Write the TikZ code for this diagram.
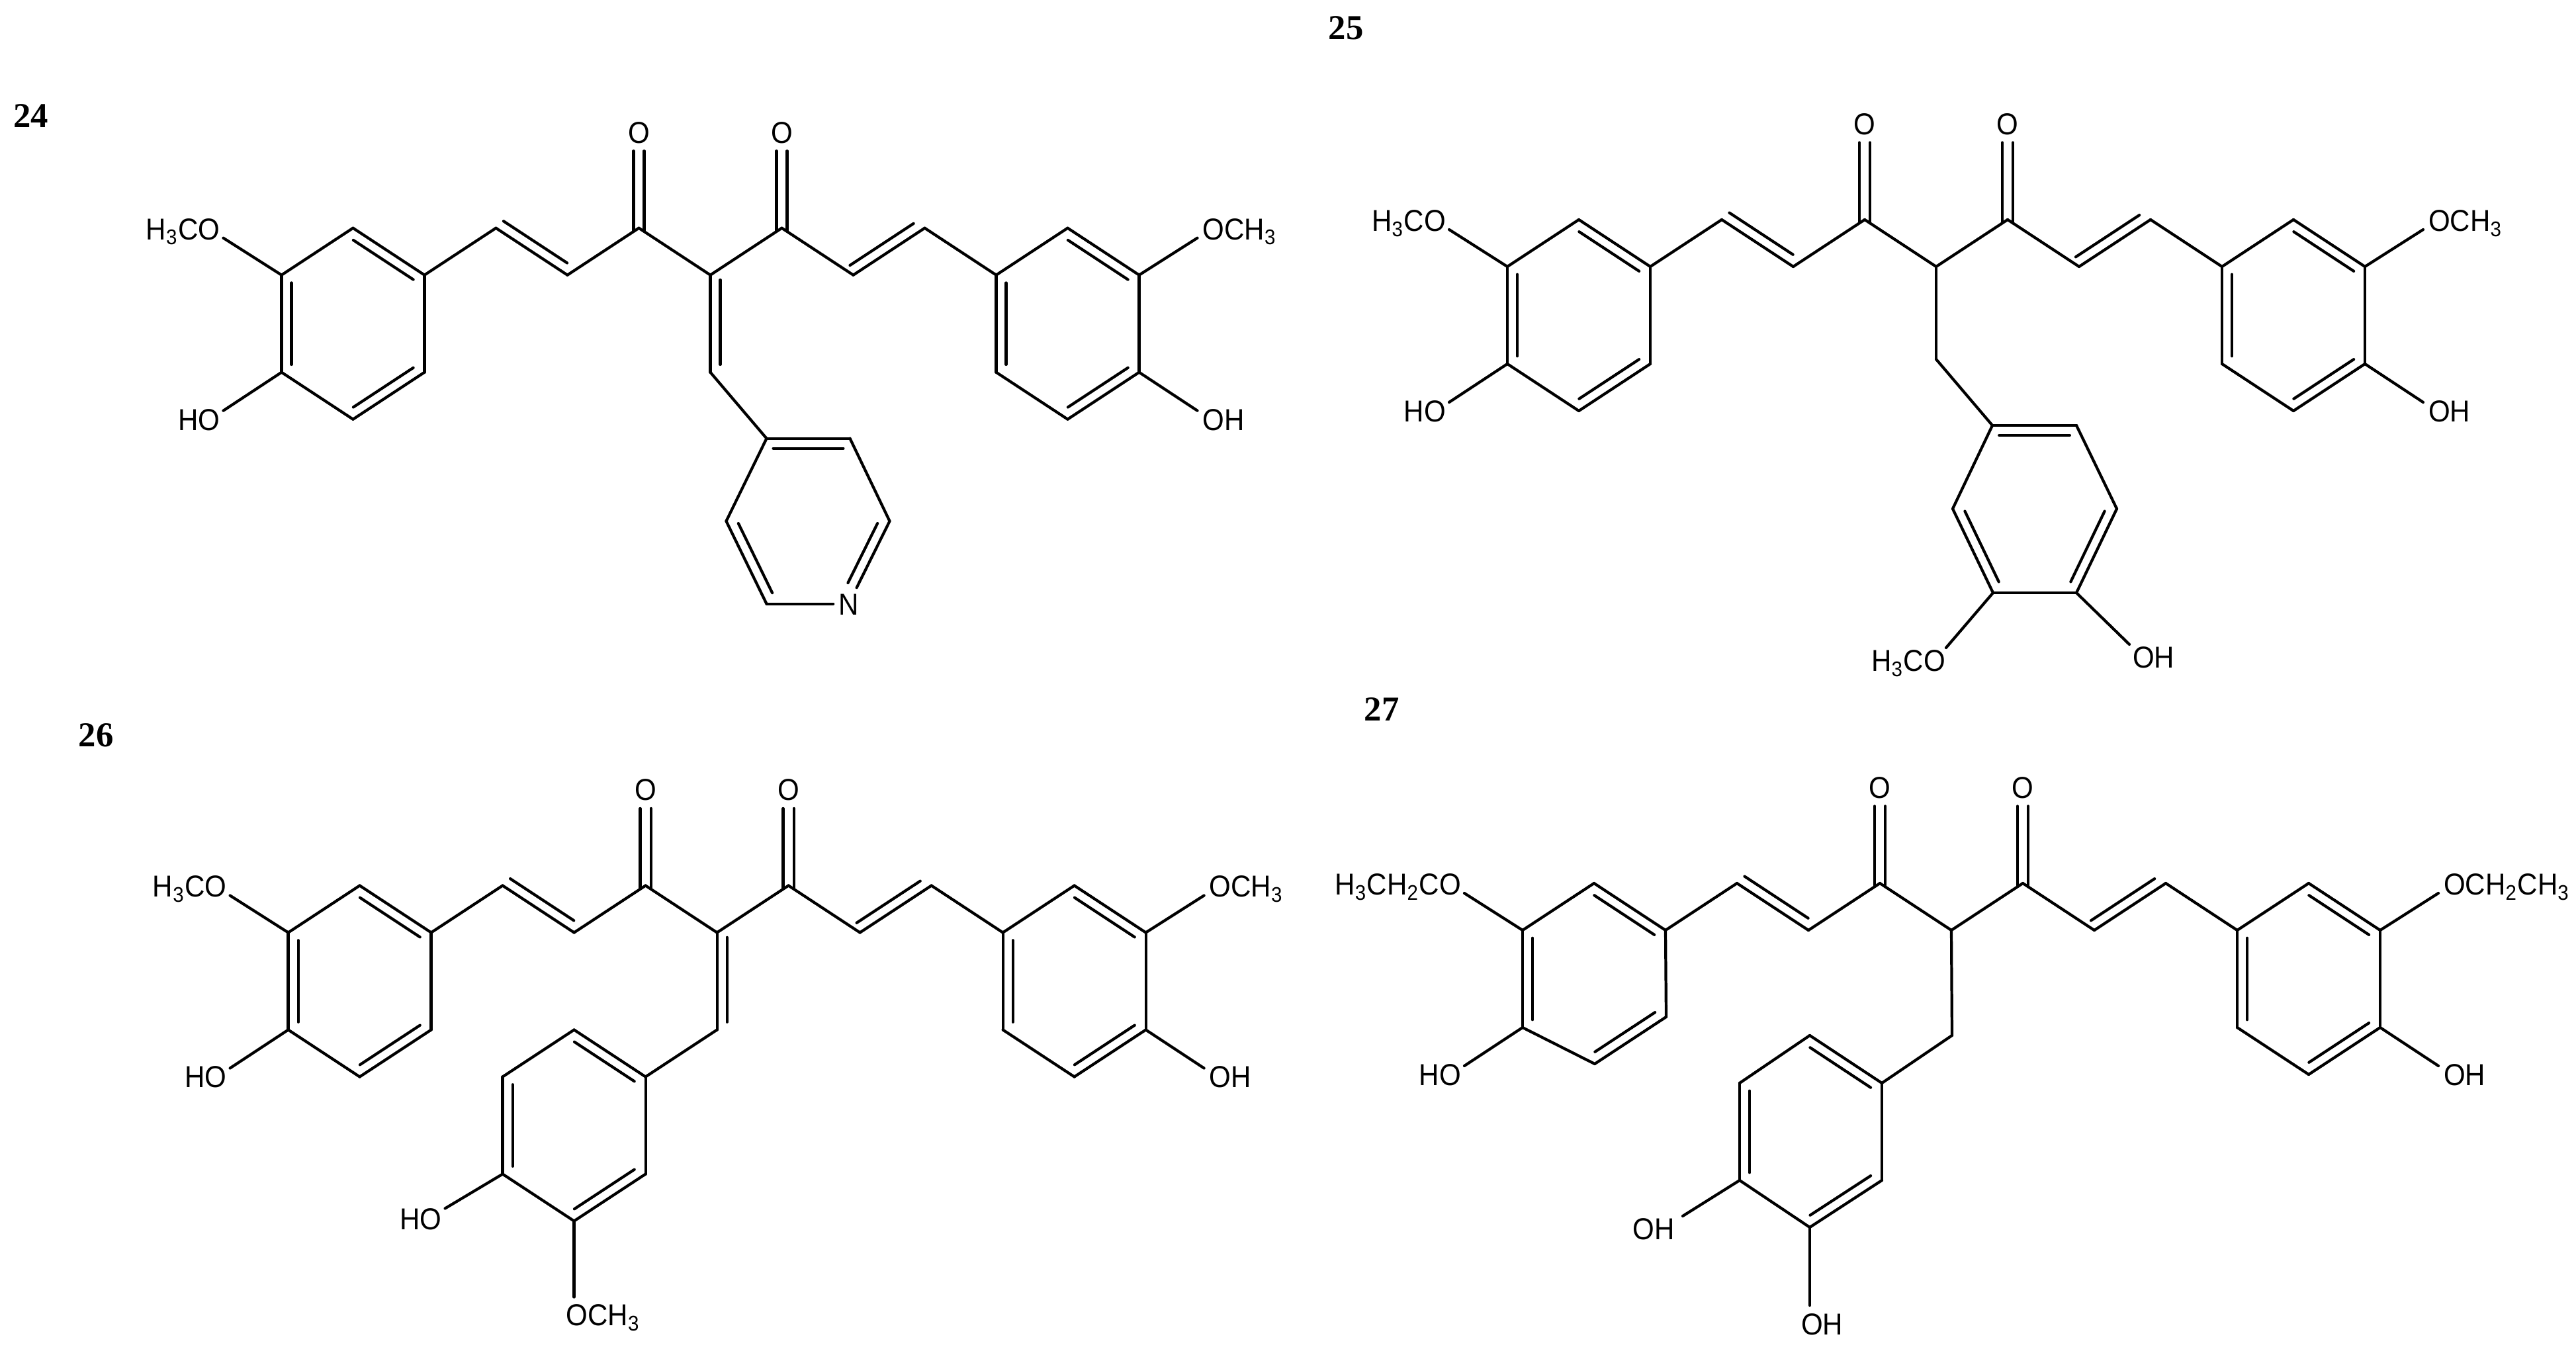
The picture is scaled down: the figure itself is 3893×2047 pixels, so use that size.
\documentclass[tikz,border=0pt]{standalone}
\usepackage{fontspec}
\setmainfont[FakeStretch=0.92]{Liberation Sans}
\newfontfamily\numfont{Liberation Serif}
\usepackage{tikz}
\usetikzlibrary{calc}

% second line of a double bond, on the left of a->b
\newcommand{\dblin}[3][.08]{\path ($(#2)!#1!(#3)!0.15cm!90:(#3)$) edge ($(#3)!.08!(#2)!-0.15cm!90:(#2)$);}
% C=O
\newcommand{\carbonyl}[2]{\path ([xshift=-0.08cm,yshift=-0.04cm]#1) edge ([xshift=-0.08cm,yshift=-0.1cm]#2.south)
	([xshift=0.08cm,yshift=-0.04cm]#1) edge ([xshift=0.08cm,yshift=-0.1cm]#2.south);}
\newcommand{\skelatoms}[1]{
	\coordinate (#1c) at (0,0);
	\coordinate (#1r1) at (108,71);
	\coordinate (#1r2) at (216,0);
	\coordinate (#1r3) at (324,71);
	\coordinate (#1r4) at (432,0);
	\coordinate (#1r5) at (540,71);
	\coordinate (#1r6) at (648,0);
	\coordinate (#1r7) at (648,-147);
	\coordinate (#1r8) at (540,-218);
	\coordinate (#1r9) at (432,-147);
	\coordinate (#1l1) at (-108,71);
	\coordinate (#1l2) at (-216,0);
	\coordinate (#1l3) at (-324,71);
	\coordinate (#1l4) at (-432,0);
	\coordinate (#1l5) at (-540,71);
	\coordinate (#1l6) at (-648,0);
	\coordinate (#1l7) at (-648,-147);
	\coordinate (#1l8) at (-540,-218);
	\coordinate (#1l9) at (-432,-147);
	\coordinate (#1ome) at (736,56);
	\coordinate (#1oh) at (736,-205);
	\coordinate (#1lome) at (-736,56);
	\coordinate (#1loh) at (-736,-205);
}
% #2, #3: left and right ether labels
\newcommand{\skelbonds}[3]{
	\node[atom] (#1ol) at (-108,216) {O};
	\node[atom] (#1or) at (108,216) {O};
	\node[atom,anchor=east] (#1ltop) at (-739,70) {#2};
	\node[atom,anchor=east] (#1lbot) at (-739,-218) {HO};
	\node[atom,anchor=west] (#1rtop) at (742,70) {#3};
	\node[atom,anchor=west] (#1rbot) at (742,-218) {OH};
	\carbonyl{#1l1}{#1ol}
	\carbonyl{#1r1}{#1or}
	\path (#1c) edge [] (#1r1)
		(#1r1) edge [] (#1r2)
		(#1r2) edge [] (#1r3)
		(#1r3) edge [] (#1r4)
		(#1r4) edge [] (#1r5)
		(#1r5) edge [] (#1r6)
		(#1r6) edge [] (#1r7)
		(#1r7) edge [] (#1r8)
		(#1r8) edge [] (#1r9)
		(#1r9) edge [] (#1r4)
		(#1r6) edge [] (#1ome)
		(#1r7) edge [] (#1oh)
		(#1c) edge [] (#1l1)
		(#1l1) edge [] (#1l2)
		(#1l2) edge [] (#1l3)
		(#1l3) edge [] (#1l4)
		(#1l4) edge [] (#1l5)
		(#1l5) edge [] (#1l6)
		(#1l6) edge [] (#1l7)
		(#1l7) edge [] (#1l8)
		(#1l8) edge [] (#1l9)
		(#1l9) edge [] (#1l4)
		(#1l6) edge [] (#1lome)
		(#1l7) edge [] (#1loh);
	\dblin[.03]{#1r2}{#1r3}
	\dblin[.03]{#1l3}{#1l2}
	\dblin{#1r4}{#1r9}
	\dblin{#1r8}{#1r7}
	\dblin{#1r6}{#1r5}
	\dblin{#1l6}{#1l7}
	\dblin{#1l8}{#1l9}
	\dblin{#1l4}{#1l5}
}

\begin{document}
\begin{tikzpicture}[x=0.01cm,y=0.01cm,line width=1.2pt,line cap=round]
\tikzstyle{atom}=[font=\fontsize{13}{15}\selectfont,inner sep=0,text height=9.3pt,text depth=0pt]
\tikzstyle{num}=[font=\numfont\bfseries\fontsize{15}{17}\selectfont,inner sep=0]

	\useasboundingbox (0,0) rectangle (3893,2047);

	\node[num] (n24) at (47,1872) {24};
	\node[num] (n25) at (2034,2005) {25};
	\node[num] (n26) at (145,936) {26};
	\node[num] (n27) at (2088,975) {27};

	% 24
	\begin{scope}[shift={(1073.5,1631.3)}]
	\skelatoms{a}
	\skelbonds{a}{H\textsubscript{3}CO}{OCH\textsubscript{3}}
	\coordinate (am) at (0,-147);
	\coordinate (ap1) at (85,-247);
	\coordinate (ap2) at (211,-247);
	\coordinate (ap3) at (271,-372);
	\coordinate (ap5) at (85,-497);
	\coordinate (ap6) at (24,-372);
	\node[atom,inner sep=0.06cm] (an) at (209,-497) {N};
	\path (ac) edge [] (am)
		(am) edge [] (ap1)
		(ap1) edge [] (ap2)
		(ap2) edge [] (ap3)
		(ap3) edge [] (an)
		(an) edge [] (ap5)
		(ap5) edge [] (ap6)
		(ap6) edge [] (ap1);
	\dblin[.05]{ac}{am}
	\dblin{ap2}{ap1}
	\dblin{ap6}{ap5}
	\dblin[.2]{an}{ap3}
	\end{scope}

	% 25
	\begin{scope}[shift={(2926,1644)}]
	\skelatoms{b}
	\skelbonds{b}{H\textsubscript{3}CO}{OCH\textsubscript{3}}
	\coordinate (bm) at (0,-140);
	\coordinate (bp1) at (85,-240);
	\coordinate (bp2) at (212,-240);
	\coordinate (bp3) at (273,-366);
	\coordinate (bp4) at (212,-493);
	\coordinate (bp5) at (86,-493);
	\coordinate (bp6) at (25,-366);
	\coordinate (bome) at (15,-576);
	\coordinate (boh) at (292,-571);
	\node[atom,anchor=east] (bo1) at (16,-595) {H\textsubscript{3}CO};
	\node[atom,anchor=west] (bo2) at (295,-590) {OH};
	\path (bc) edge [] (bm)
		(bm) edge [] (bp1)
		(bp1) edge [] (bp2)
		(bp2) edge [] (bp3)
		(bp3) edge [] (bp4)
		(bp4) edge [] (bp5)
		(bp5) edge [] (bp6)
		(bp6) edge [] (bp1)
		(bp5) edge [] (bome)
		(bp4) edge [] (boh);
	\dblin{bp2}{bp1}
	\dblin{bp6}{bp5}
	\dblin{bp4}{bp3}
	\end{scope}

	% 26
	\begin{scope}[shift={(1083.6,637.5)}]
	\skelatoms{c}
	\skelbonds{c}{H\textsubscript{3}CO}{OCH\textsubscript{3}}
	\coordinate (cm) at (0,-147);
	\coordinate (cp1) at (-108,-218);
	\coordinate (cp2) at (-216,-147);
	\coordinate (cp3) at (-324,-218);
	\coordinate (cp4) at (-324,-365);
	\coordinate (cp5) at (-216,-436);
	\coordinate (cp6) at (-108,-365);
	\coordinate (coh) at (-411,-417);
	\coordinate (come) at (-216,-551);
	\node[atom,anchor=east] (co1) at (-414,-433) {HO};
	\node[atom,anchor=west] (co2) at (-230,-578) {OCH\textsubscript{3}};
	\path (cc) edge [] (cm)
		(cm) edge [] (cp1)
		(cp1) edge [] (cp2)
		(cp2) edge [] (cp3)
		(cp3) edge [] (cp4)
		(cp4) edge [] (cp5)
		(cp5) edge [] (cp6)
		(cp6) edge [] (cp1)
		(cp4) edge [] (coh)
		(cp5) edge [] (come);
	\dblin[.05]{cc}{cm}
	\dblin{cp3}{cp4}
	\dblin{cp5}{cp6}
	\dblin{cp1}{cp2}
	\end{scope}

	% 27
	\begin{scope}[shift={(2949,641)}]
	\skelatoms{d}
	\coordinate (dl8) at (-539,-202);
	\coordinate (dl9) at (-431,-131);
	\skelbonds{d}{H\textsubscript{3}CH\textsubscript{2}CO}{OCH\textsubscript{2}CH\textsubscript{3}}
	\coordinate (dm) at (1,-159);
	\coordinate (dp1) at (-105,-231);
	\coordinate (dp2) at (-214,-159);
	\coordinate (dp3) at (-320,-231);
	\coordinate (dp4) at (-320,-378);
	\coordinate (dp5) at (-214,-449);
	\coordinate (dp6) at (-105,-378);
	\coordinate (doh1) at (-406,-432);
	\coordinate (doh2) at (-214,-567);
	\node[atom,anchor=east] (do1) at (-416,-451) {OH};
	\node[atom,anchor=west] (do2) at (-229,-595) {OH};
	\path (dc) edge [] (dm)
		(dm) edge [] (dp1)
		(dp1) edge [] (dp2)
		(dp2) edge [] (dp3)
		(dp3) edge [] (dp4)
		(dp4) edge [] (dp5)
		(dp5) edge [] (dp6)
		(dp6) edge [] (dp1)
		(dp4) edge [] (doh1)
		(dp5) edge [] (doh2);
	\dblin{dp3}{dp4}
	\dblin{dp5}{dp6}
	\dblin{dp1}{dp2}
	\end{scope}

\end{tikzpicture}
\end{document}
